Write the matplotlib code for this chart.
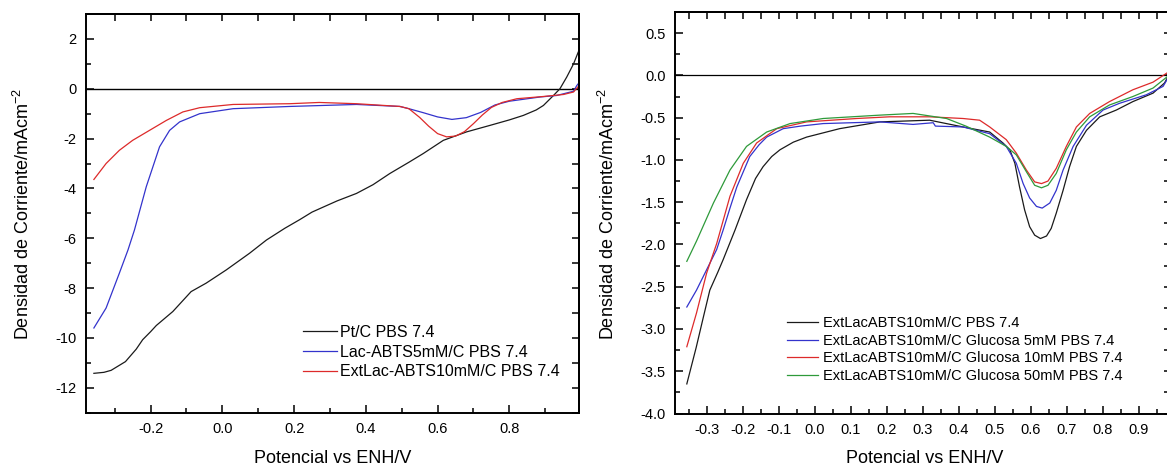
import numpy as np
import matplotlib
matplotlib.use("Agg")
import matplotlib.pyplot as plt
from matplotlib.ticker import MultipleLocator, NullFormatter, FormatStrFormatter

plt.rcParams['font.family'] = ['Liberation Sans', 'DejaVu Sans']
plt.rcParams['mathtext.fontset'] = 'custom'
plt.rcParams['mathtext.rm'] = 'Liberation Sans'
plt.rcParams['mathtext.default'] = 'regular'

# ---------------- Left panel data ----------------
pt_x = [-0.358, -0.33, -0.31, -0.27, -0.24, -0.222, -0.2, -0.184, -0.138, -0.087, -0.045, 0.011,
        0.076, 0.123, 0.174, 0.216, 0.25, 0.281, 0.32, 0.374, 0.42, 0.467, 0.52, 0.56, 0.616,
        0.681, 0.746, 0.8, 0.839, 0.875, 0.895, 0.923, 0.941, 0.96, 0.979, 0.992]
pt_y = [-11.42, -11.38, -11.3, -10.95, -10.45, -10.07, -9.75, -9.5, -8.94, -8.14, -7.8, -7.27,
        -6.6, -6.07, -5.6, -5.25, -4.95, -4.75, -4.5, -4.2, -3.85, -3.4, -2.95, -2.6, -2.07,
        -1.73, -1.47, -1.25, -1.07, -0.85, -0.67, -0.27, 0.0, 0.47, 1.0, 1.47]

lac_x = [-0.358, -0.324, -0.287, -0.263, -0.245, -0.212, -0.175, -0.147, -0.119, -0.063, 0.03,
         0.188, 0.374, 0.495, 0.52, 0.56, 0.6, 0.64, 0.68, 0.72, 0.76, 0.8, 0.886, 0.932,
         0.979, 0.988, 0.992]
lac_y = [-9.6, -8.8, -7.4, -6.47, -5.67, -3.93, -2.33, -1.67, -1.33, -1.0, -0.8,
         -0.71, -0.63, -0.71, -0.8, -0.96, -1.13, -1.23, -1.16, -0.95, -0.65, -0.5, -0.33, -0.27,
         -0.1, 0.13, 0.2]

ext_x = [-0.358, -0.324, -0.287, -0.25, -0.203, -0.156, -0.11, -0.063, 0.03, 0.188, 0.27,
         0.374, 0.495, 0.52, 0.55, 0.575, 0.6, 0.625, 0.65, 0.675, 0.7, 0.725, 0.75, 0.78,
         0.821, 0.895, 0.951, 0.979, 0.992]
ext_y = [-3.64, -3.0, -2.47, -2.07, -1.67, -1.27, -0.93, -0.76, -0.63, -0.6, -0.55,
         -0.6, -0.71, -0.8, -1.15, -1.5, -1.8, -1.93, -1.9, -1.72, -1.4, -1.05, -0.75, -0.55,
         -0.4, -0.31, -0.23, -0.13, 0.09]

left_labels = ["Pt/C PBS 7.4", "Lac-ABTS5mM/C PBS 7.4", "ExtLac-ABTS10mM/C PBS 7.4"]

# ---------------- Right panel data ----------------
r0_x = [-0.356, -0.33, -0.31, -0.292, -0.27, -0.255, -0.222, -0.19, -0.165, -0.144, -0.12,
        -0.097, -0.06, -0.023, 0.069, 0.181, 0.319, 0.412, 0.486, 0.523, 0.542, 0.556, 0.569,
        0.583, 0.597, 0.611, 0.627, 0.644, 0.657, 0.671, 0.69, 0.708, 0.727, 0.755, 0.792,
        0.838, 0.884, 0.94, 0.972, 0.99]
r0_y = [-3.65, -3.22, -2.86, -2.54, -2.33, -2.18, -1.83, -1.47, -1.22, -1.08, -0.96,
        -0.88, -0.79, -0.73, -0.63, -0.55, -0.53, -0.61, -0.67, -0.80, -0.88, -1.04, -1.32,
        -1.59, -1.79, -1.89, -1.93, -1.90, -1.81, -1.63, -1.36, -1.08, -0.84, -0.65, -0.49,
        -0.41, -0.31, -0.21, -0.09, 0.05]

r5_x = [-0.356, -0.329, -0.301, -0.273, -0.255, -0.236, -0.217, -0.181, -0.155, -0.134, -0.088,
        -0.04, 0.023, 0.181, 0.273, 0.329, 0.335, 0.412, 0.486, 0.532, 0.56, 0.579, 0.597,
        0.616, 0.632, 0.653, 0.671, 0.69, 0.718, 0.755, 0.801, 0.847, 0.921, 0.968, 0.99]
r5_y = [-2.74, -2.54, -2.30, -2.06, -1.83, -1.57, -1.32, -0.96, -0.82, -0.73, -0.63,
        -0.60, -0.57, -0.55, -0.58, -0.56, -0.60, -0.61, -0.69, -0.84, -1.04, -1.28, -1.45,
        -1.55, -1.57, -1.51, -1.36, -1.12, -0.84, -0.59, -0.41, -0.33, -0.23, -0.13, 0.03]

r10_x = [-0.356, -0.329, -0.301, -0.273, -0.236, -0.199, -0.162, -0.106, -0.023, 0.116, 0.208,
         0.319, 0.412, 0.458, 0.486, 0.532, 0.56, 0.588, 0.611, 0.63, 0.648, 0.671, 0.699,
         0.727, 0.764, 0.819, 0.884, 0.94, 0.99]
r10_y = [-3.21, -2.81, -2.34, -1.99, -1.43, -1.04, -0.80, -0.63, -0.55, -0.51, -0.49,
         -0.49, -0.51, -0.53, -0.61, -0.76, -0.92, -1.12, -1.26, -1.28, -1.25, -1.10, -0.84,
         -0.61, -0.45, -0.31, -0.17, -0.08, 0.06]

r50_x = [-0.356, -0.329, -0.282, -0.236, -0.19, -0.134, -0.069, 0.023, 0.181, 0.273, 0.366,
         0.42, 0.486, 0.532, 0.56, 0.588, 0.611, 0.63, 0.648, 0.671, 0.699, 0.727, 0.764,
         0.819, 0.884, 0.94, 0.99]
r50_y = [-2.20, -1.96, -1.51, -1.12, -0.84, -0.67, -0.57, -0.51, -0.47, -0.45, -0.51,
         -0.60, -0.73, -0.84, -0.94, -1.14, -1.30, -1.33, -1.30, -1.16, -0.88, -0.67, -0.49,
         -0.35, -0.25, -0.15, 0.02]

right_labels = ["ExtLacABTS10mM/C PBS 7.4",
                "ExtLacABTS10mM/C Glucosa 5mM PBS 7.4",
                "ExtLacABTS10mM/C Glucosa 10mM PBS 7.4",
                "ExtLacABTS10mM/C Glucosa 50mM PBS 7.4"]

C_BLACK = '#1a1a1a'
C_BLUE = '#3333cc'
C_RED = '#dd2a2a'
C_GREEN = '#2e9a3a'

W, H = 1167, 466
fig = plt.figure(figsize=(W / 100, H / 100), dpi=100)


def px_axes(l, t, r, b):
    return fig.add_axes([l / W, 1 - b / H, (r - l) / W, (b - t) / H])


def style(ax, xmaj, xmin, ymaj, ymin, top_step, right_step, xfmt, yfmt):
    for s in ax.spines.values():
        s.set_linewidth(1.4)
    ax.xaxis.set_major_locator(MultipleLocator(xmaj))
    ax.xaxis.set_minor_locator(MultipleLocator(xmin))
    ax.yaxis.set_major_locator(MultipleLocator(ymaj))
    ax.yaxis.set_minor_locator(MultipleLocator(ymin))
    ax.xaxis.set_major_formatter(FormatStrFormatter(xfmt))
    ax.yaxis.set_major_formatter(FormatStrFormatter(yfmt))
    ax.tick_params(which='major', direction='in', length=6, width=1.1, labelsize=10.5,
                   pad=7, top=False, right=False)
    ax.tick_params(which='minor', direction='in', length=3.3, width=1.1, top=False, right=False)
    sx = ax.secondary_xaxis('top')
    sx.xaxis.set_major_locator(MultipleLocator(top_step))
    sx.xaxis.set_minor_locator(plt.NullLocator())
    sx.xaxis.set_major_formatter(NullFormatter())
    sx.tick_params(direction='in', length=5, width=1.1)
    sx.spines['top'].set_linewidth(1.4)
    sy = ax.secondary_yaxis('right')
    sy.yaxis.set_major_locator(MultipleLocator(right_step))
    sy.yaxis.set_minor_locator(plt.NullLocator())
    sy.yaxis.set_major_formatter(NullFormatter())
    sy.tick_params(direction='in', length=5, width=1.1)
    sy.spines['right'].set_linewidth(1.4)


# ---------------- Left axes ----------------
ax1 = px_axes(86, 14, 579.3, 412.7)
ax1.axhline(0, color='black', lw=1.0, zorder=1)
ax1.plot(pt_x, pt_y, color=C_BLACK, lw=0.9, label=left_labels[0])
ax1.plot(lac_x, lac_y, color=C_BLUE, lw=0.9, label=left_labels[1])
ax1.plot(ext_x, ext_y, color=C_RED, lw=0.9, label=left_labels[2])
ax1.set_xlim(-0.38, 0.995)
ax1.set_ylim(-13, 3)
style(ax1, 0.2, 0.1, 2, 1, 0.1, 1, '%.1f', '%d')
ax1.legend(loc='upper left', bbox_to_anchor=(303 / W, 1 - 325 / H),
           bbox_transform=fig.transFigure, frameon=False, fontsize=11.5,
           borderpad=0, borderaxespad=0, handlelength=2.1, handletextpad=0.2,
           labelspacing=0.29)

# ---------------- Right axes ----------------
ax2 = px_axes(675.3, 12, 1171, 413.5)
ax2.axhline(0, color='black', lw=0.9, zorder=1)
ax2.plot(r0_x, r0_y, color=C_BLACK, lw=0.9, label=right_labels[0])
ax2.plot(r5_x, r5_y, color=C_BLUE, lw=0.9, label=right_labels[1])
ax2.plot(r10_x, r10_y, color=C_RED, lw=0.9, label=right_labels[2])
ax2.plot(r50_x, r50_y, color=C_GREEN, lw=0.9, label=right_labels[3])
ax2.set_xlim(-0.388, 0.99)
ax2.set_ylim(-4.0, 0.75)
style(ax2, 0.1, 0.05, 0.5, 0.25, 0.05, 0.25, '%.1f', '%.1f')
ax2.legend(loc='upper left', bbox_to_anchor=(787 / W, 1 - 316 / H),
           bbox_transform=fig.transFigure, frameon=False, fontsize=10.5,
           borderpad=0, borderaxespad=0, handlelength=2.1, handletextpad=0.34,
           labelspacing=0.25)

# ---------------- Axis labels ----------------
ylab = 'Densidad de Corriente/mAcm$^{-2}$'
fig.text(23 / W, 1 - 214 / H, ylab, rotation=90, ha='center', va='center', fontsize=13)
fig.text(608 / W, 1 - 214 / H, ylab, rotation=90, ha='center', va='center', fontsize=13)
fig.text(333 / W, 1 - 463 / H, 'Potencial vs ENH/V', ha='center', va='baseline', fontsize=13)
fig.text(925 / W, 1 - 463 / H, 'Potencial vs ENH/V', ha='center', va='baseline', fontsize=13)

fig.savefig('out.png', dpi=100)
